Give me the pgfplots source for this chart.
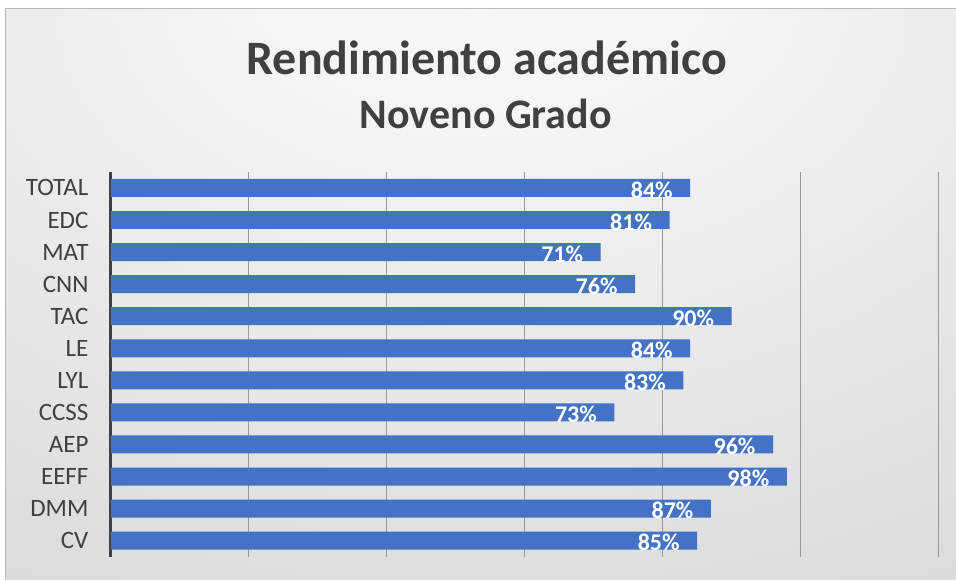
\documentclass[border=0pt]{standalone}
\usepackage{fontspec}
\setmainfont{Carlito}
\usepackage{pgfplots}
\pgfplotsset{compat=1.18}
\definecolor{barblue}{HTML}{4472C4}
\definecolor{txt}{HTML}{404040}
\pgfdeclareradialshading{bgshade}{\pgfpoint{0bp}{32bp}}{color(0bp)=(white!98!black); color(12bp)=(white!96!black); color(55bp)=(white!84!black); color(100bp)=(white!78!black)}
\begin{document}
\begin{tikzpicture}[x=1pt,y=1pt]
\fill[white] (0,0) rectangle (956,580);
\shade[shading=bgshade] (6,0) rectangle (956,571);
\draw[white!72!black, line width=1pt] (6,0) -- (6,571) -- (956,571);
\node[font=\bfseries\fontsize{48}{54}\selectfont, text=txt, anchor=base] at (487,505) {Rendimiento académico};
\node[font=\bfseries\fontsize{42}{48}\selectfont, text=txt, anchor=base] at (486,451) {Noveno Grado};
\begin{axis}[
  at={(111pt,23pt)}, anchor=south west,
  width=828pt, height=385pt, scale only axis,
  xbar, bar width=18pt,
  xmin=0, xmax=1.2, ymin=-0.5, ymax=11.5,
  ytick={0,...,11},
  yticklabels={CV,DMM,EEFF,AEP,CCSS,LYL,LE,TAC,CNN,MAT,EDC,TOTAL},
  xtick={0,0.2,0.4,0.6,0.8,1.0,1.2},
  xticklabels={},
  major tick length=0pt,
  xmajorgrids,
  grid style={white!60!black, line width=1pt},
  axis lines*=left,
  x axis line style={draw=none},
  y axis line style={draw=txt, line width=3pt, -},
  yticklabel style={font=\fontsize{25}{27}\selectfont, text=txt, xshift=-19pt},
  point meta=explicit symbolic,
  nodes near coords,
  every node near coord/.append style={anchor=east, xshift=-14pt, yshift=-2pt, text=white, font=\bfseries\fontsize{24}{26}\selectfont},
]
\addplot[fill=barblue, draw=none] coordinates {
  (0.85,0) [85\%]
  (0.87,1) [87\%]
  (0.98,2) [98\%]
  (0.96,3) [96\%]
  (0.73,4) [73\%]
  (0.83,5) [83\%]
  (0.84,6) [84\%]
  (0.90,7) [90\%]
  (0.76,8) [76\%]
  (0.71,9) [71\%]
  (0.81,10) [81\%]
  (0.84,11) [84\%]
};
\end{axis}
\end{tikzpicture}
\end{document}
